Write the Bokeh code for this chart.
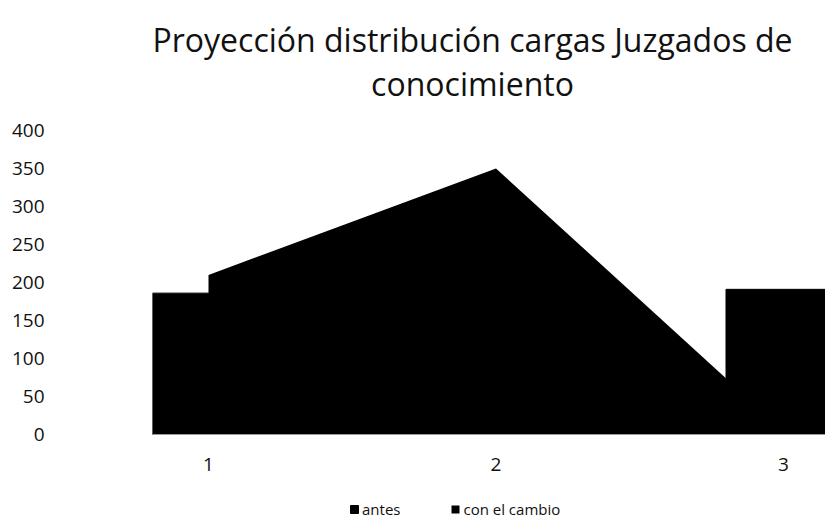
from bokeh.plotting import figure
from bokeh.models import Range1d, FixedTicker, Label, Legend, LegendItem
from bokeh.embed import file_html
from bokeh.resources import INLINE

categories = [1, 2, 3]
antes = [186, 190, 191]
con_el_cambio = [210, 350, 5]
y_ticks = [0, 50, 100, 150, 200, 250, 300, 350, 400]
title_lines = ["Proyección distribución cargas Juzgados de", "conocimiento"]
legend_labels = ["antes", "con el cambio"]

FONT = "Open Sans"
TXT = "#111111"

W, H = 825, 519
LEFT = 152
# y scale: value 400 at 130 px, value 0 at 434 px from the top
PX_PER_UNIT = (434 - 130) / 400.0
y_top = 400 + 130 / PX_PER_UNIT
y_bot = -(H - 434) / PX_PER_UNIT
# x scale: category 1 at 208 px, category 3 at 783 px
PX_PER_CAT = (783 - 208) / 2.0
x_left = 1 - (208 - LEFT) / PX_PER_CAT
x_right = 1 + (W - 208) / PX_PER_CAT

p = figure(width=W, height=H, output_backend="svg", toolbar_location=None,
           x_range=Range1d(x_left, x_right), y_range=Range1d(y_bot, y_top),
           min_border_left=LEFT, min_border_right=0, min_border_top=0, min_border_bottom=0)
p.outline_line_color = None
p.xgrid.visible = False
p.ygrid.visible = False
p.background_fill_color = "white"
p.border_fill_color = "white"

r_bar = p.vbar(x=categories, top=antes, width=0.4, fill_color="black", line_color="black")
r_area = p.varea(x=categories, y1=[0, 0, 0], y2=con_el_cambio, fill_color="black")

p.yaxis.ticker = FixedTicker(ticks=y_ticks)
p.yaxis.axis_line_color = None
p.yaxis.major_tick_line_color = None
p.yaxis.minor_tick_line_color = None
p.yaxis.major_tick_out = 0
p.yaxis.major_label_standoff = 108
p.yaxis.major_label_text_font = FONT
p.yaxis.major_label_text_font_size = "19px"
p.yaxis.major_label_text_color = TXT

p.xaxis.ticker = FixedTicker(ticks=categories)
p.xaxis.fixed_location = 0
p.xaxis.axis_line_color = "#9a9a9a"
p.xaxis.major_tick_line_color = None
p.xaxis.minor_tick_line_color = None
p.xaxis.major_tick_out = 0
p.xaxis.major_label_standoff = 23
p.xaxis.major_label_text_font = FONT
p.xaxis.major_label_text_font_size = "19px"
p.xaxis.major_label_text_color = TXT

for txt, yy in zip(title_lines, [H - 39, H - 83]):
    p.add_layout(Label(x=472 - LEFT, y=yy, x_units="screen", y_units="screen", text=txt,
                       text_align="center", text_baseline="alphabetic",
                       text_font=FONT, text_font_size="32px", text_color=TXT))

legend = Legend(items=[LegendItem(label=legend_labels[0], renderers=[r_bar]),
                       LegendItem(label=legend_labels[1], renderers=[r_area])],
                location=(349 - LEFT, 0), orientation="horizontal",
                border_line_color=None, background_fill_alpha=0,
                padding=0, margin=0, glyph_width=10, glyph_height=10,
                label_standoff=3, spacing=50, label_height=14,
                label_text_font=FONT, label_text_font_size="15px", label_text_color=TXT)
p.add_layout(legend)

open("out.html", "w").write(file_html(p, INLINE))
